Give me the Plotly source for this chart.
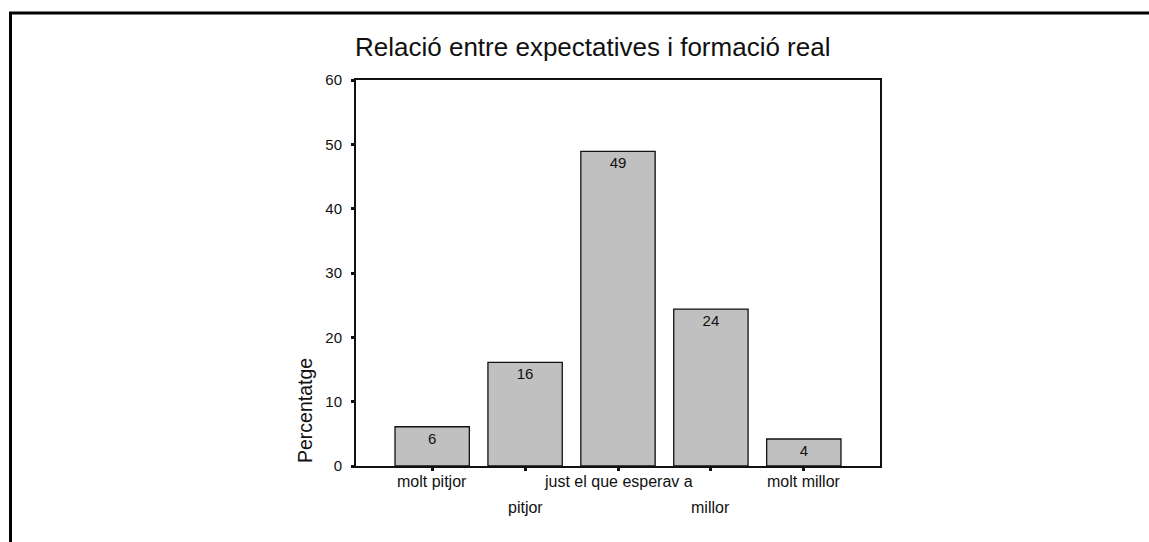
import plotly.graph_objects as go

categories = ["molt pitjor", "pitjor", "just el que esperav a", "millor", "molt millor"]
values = [6.1, 16.1, 48.9, 24.4, 4.2]
bar_labels = ["6", "16", "49", "24", "4"]
label_row = [0, 1, 0, 1, 0]
y_ticks = [0, 10, 20, 30, 40, 50, 60]
title = "Relació entre expectatives i formació real"
y_title = "Percentatge"

W, H = 1149, 542
FONT = "Liberation Sans, Arial, sans-serif"

def px_x(p):
    return p / W

def px_y(p):
    return 1 - p / H

x_idx = list(range(len(categories)))

fig = go.Figure()
fig.add_trace(go.Bar(
    x=x_idx, y=values, width=0.8,
    marker=dict(color="#c0c0c0", line=dict(color="#111111", width=1.3)),
    text=bar_labels, textposition="inside", insidetextanchor="end",
    textangle=0, constraintext="none",
    textfont=dict(family=FONT, size=15, color="#111111"),
    hoverinfo="skip",
))

annotations = []
for i, (cat, row) in enumerate(zip(categories, label_row)):
    annotations.append(dict(
        x=i, xref="x", y=px_y(482 + 25 * row), yref="paper",
        text=cat, showarrow=False, xanchor="center", yanchor="middle",
        font=dict(family=FONT, size=16, color="#111111"),
    ))
annotations.append(dict(
    x=px_x(305), xref="paper", y=px_y(411), yref="paper",
    text=y_title, textangle=-90, showarrow=False,
    xanchor="center", yanchor="middle",
    font=dict(family=FONT, size=19.5, color="#111111"),
))
annotations.append(dict(
    x=px_x(592), xref="paper", y=px_y(47), yref="paper",
    text=title, showarrow=False, xanchor="center", yanchor="middle",
    font=dict(family=FONT, size=26, color="#111111"),
))

fig.update_layout(
    template="none",
    width=W, height=H,
    margin=dict(l=0, r=0, t=0, b=0, pad=0, autoexpand=False),
    paper_bgcolor="white", plot_bgcolor="white",
    showlegend=False,
    hovermode=False,
    annotations=annotations,
    xaxis=dict(
        domain=[px_x(356), px_x(880)],
        range=[-0.82, 4.82],
        tickvals=x_idx, showticklabels=False, automargin=False,
        ticks="outside", ticklen=3, tickwidth=3, tickcolor="#111111",
        showline=True, linecolor="#111111", linewidth=2, mirror=True,
        showgrid=False, zeroline=False, fixedrange=True,
    ),
    yaxis=dict(
        domain=[px_y(466), px_y(80)],
        range=[0, 60], automargin=False,
        tickvals=y_ticks,
        ticks="outside", ticklen=3, tickwidth=3, tickcolor="#111111",
        tickfont=dict(family=FONT, size=15, color="#111111"),
        ticklabelstandoff=6,
        showline=True, linecolor="#111111", linewidth=2, mirror=True,
        showgrid=False, zeroline=False, fixedrange=True,
    ),
    shapes=[dict(
        type="path", xref="paper", yref="paper",
        path=f"M {px_x(10.5)},{px_y(560)} L {px_x(10.5)},{px_y(13)} L {px_x(1170)},{px_y(13)}",
        line=dict(color="black", width=3),
    )],
)

fig.write_html(
    "out.html",
    config={"displayModeBar": False, "staticPlot": True},
    post_script="document.body.style.margin='0';document.body.style.overflow='hidden';",
)
